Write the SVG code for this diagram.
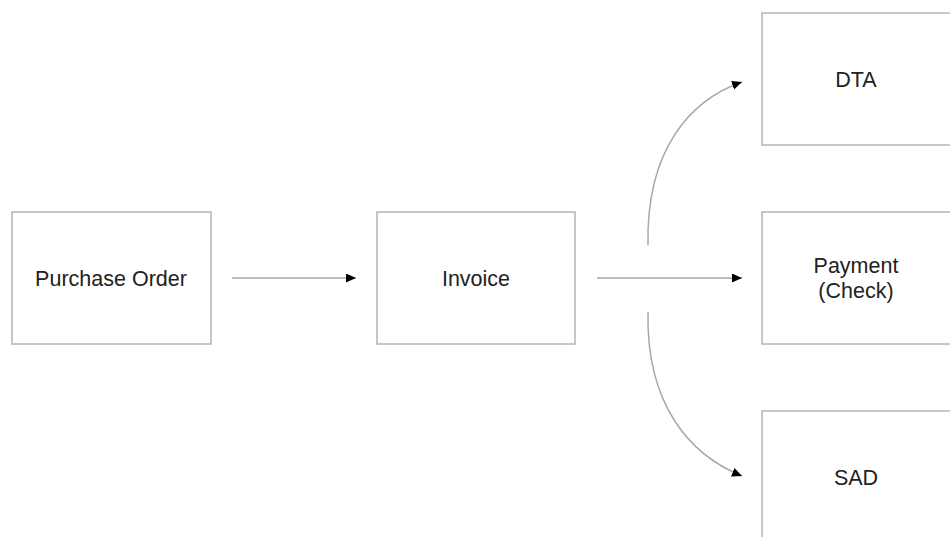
<svg xmlns="http://www.w3.org/2000/svg" width="950" height="537" viewBox="0 0 950 537">
<style>
.box{fill:#fff;stroke:#b4b4b4;stroke-width:1.5}
.lbl{font-family:"Liberation Sans",Arial,sans-serif;font-size:21.5px;fill:#222;text-anchor:middle}
.con{fill:none;stroke:#a8a8a8;stroke-width:1.5}
</style>
<defs>
<marker id="ah" markerUnits="userSpaceOnUse" markerWidth="12" markerHeight="10" refX="10" refY="4.5" orient="auto">
<path d="M0,0 L10,4.5 L0,9 Z" fill="#000"/>
</marker>
</defs>
<rect width="950" height="537" fill="#fff"/>
<g id="purchase-order"><rect class="box" x="12" y="212" width="199" height="132"/><text class="lbl" x="111" y="286">Purchase Order</text></g>
<g id="invoice"><rect class="box" x="377" y="212" width="198" height="132"/><text class="lbl" x="476" y="286">Invoice</text></g>
<g id="dta"><rect class="box" x="762" y="13" width="200" height="132"/><text class="lbl" x="856" y="87">DTA</text></g>
<g id="payment"><rect class="box" x="762" y="212" width="200" height="132"/><text class="lbl" x="856" y="273">Payment</text><text class="lbl" x="856" y="298">(Check)</text></g>
<g id="sad"><rect class="box" x="762" y="411" width="200" height="132"/><text class="lbl" x="856" y="485">SAD</text></g>
<g id="connectors">
<path class="con" d="M232,278 L356,278" marker-end="url(#ah)"/>
<path class="con" d="M597,278 L742,278" marker-end="url(#ah)"/>
<path class="con" d="M648,245 C646,150 690,100 742,82" marker-end="url(#ah)"/>
<path class="con" d="M648,312 C646,405 690,455 742,476" marker-end="url(#ah)"/>
</g>
</svg>
